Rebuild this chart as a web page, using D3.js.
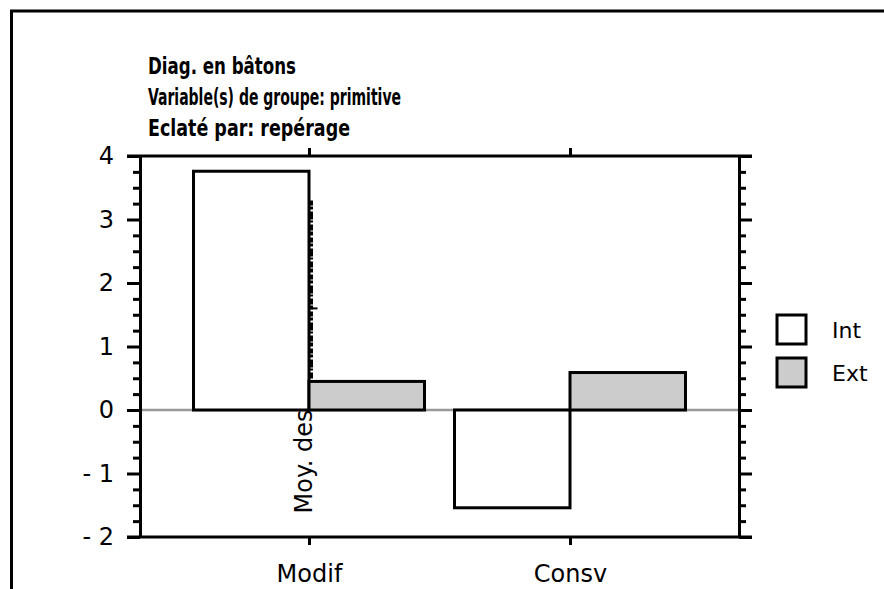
<!DOCTYPE html>
<html>
<head>
<meta charset="utf-8">
<script src="https://cdn.jsdelivr.net/npm/d3@7"></script>
<style>
  html, body { margin: 0; padding: 0; background: #fff; }
  svg { display: block; }
</style>
</head>
<body>
<svg id="chart" width="884" height="589"></svg>
<script>
// Mean scores by group (primitive), split by detection (repérage)
const categories = ["Modif", "Consv"];
const seriesNames = ["Int", "Ext"];
const intValues = [3.76, -1.54];
const extValues = [0.45, 0.59];
const seriesFills = ["#ffffff", "#cccccc"];
const yTicks = [-2, -1, 0, 1, 2, 3, 4];
const yTickLabels = ["- 2", "- 1", "0", "1", "2", "3", "4"];
const titleLines = ["Diag. en bâtons", "Variable(s) de groupe: primitive", "Eclaté par: repérage"];
const titleWidths = [148, 253, 202];
const yAxisLabel = "Moy. des";

const svg = d3.select("#chart");
const W = 884, H = 589;
const plotLeft = 140, plotRight = 739, plotTop = 156, plotBottom = 537;
const labelFont = "'DejaVu Sans', Verdana, sans-serif";
const lineW = 3;

// outer frame (top and left edges)
svg.append("path")
  .attr("d", `M11.5,${H} L11.5,11 L${W},11`)
  .attr("fill", "none").attr("stroke", "#000").attr("stroke-width", 3);

// title block
const title = svg.append("g").attr("font-family", "'Liberation Sans Narrow', 'DejaVu Sans Condensed', sans-serif")
  .attr("font-weight", "bold").attr("font-size", 23).attr("fill", "#000");
titleLines.forEach((t, i) => {
  title.append("text").attr("x", 148).attr("y", 74 + i * 31)
    .attr("textLength", titleWidths[i]).attr("lengthAdjust", "spacingAndGlyphs")
    .text(t);
});

// scales
const y = d3.scaleLinear().domain([-2, 4]).range([plotBottom, plotTop]);
const x0 = d3.scaleBand().domain(categories).range([plotLeft, plotRight]).paddingInner(0.115).paddingOuter(0.205);
const x1 = d3.scaleBand().domain(seriesNames).range([0, x0.bandwidth()]);

const rows = categories.map((c, i) => ({ cat: c, values: [intValues[i], extValues[i]] }));

// zero line
svg.append("line")
  .attr("x1", plotLeft).attr("x2", plotRight).attr("y1", y(0)).attr("y2", y(0))
  .attr("stroke", "#999").attr("stroke-width", 2.5);

// bars
const groups = svg.append("g").selectAll("g").data(rows).join("g")
  .attr("transform", d => `translate(${x0(d.cat)},0)`);
groups.selectAll("rect")
  .data(d => d.values.map((v, j) => ({ key: seriesNames[j], v, fill: seriesFills[j] })))
  .join("rect")
  .attr("x", d => x1(d.key))
  .attr("width", x1.bandwidth())
  .attr("y", d => y(Math.max(0, d.v)))
  .attr("height", d => Math.abs(y(d.v) - y(0)))
  .attr("fill", d => d.fill)
  .attr("stroke", "#000").attr("stroke-width", lineW);

// axes: left and right with minor ticks, top and bottom with category ticks
const minor = d3.range(-2, 4.001, 0.25).filter(v => Math.abs(v - Math.round(v)) > 1e-6);
function styleAxis(g) {
  g.selectAll("path, line").attr("stroke", "#000").attr("stroke-width", lineW);
}
const leftAx = svg.append("g").attr("transform", `translate(${plotLeft},0)`);
leftAx.call(d3.axisLeft(y).tickValues(minor).tickSize(7).tickFormat(""));
leftAx.call(g => g.select(".domain").remove());
const leftMajor = svg.append("g").attr("transform", `translate(${plotLeft},0)`)
  .call(d3.axisLeft(y).tickValues(yTicks).tickSize(13).tickSizeOuter(0).tickPadding(13)
    .tickFormat((d, i) => yTickLabels[i]));
leftMajor.selectAll("text").attr("font-family", labelFont).attr("font-size", 24).attr("fill", "#000");
styleAxis(leftAx); styleAxis(leftMajor);

const rightAx = svg.append("g").attr("transform", `translate(${plotRight},0)`);
rightAx.call(d3.axisRight(y).tickValues(minor).tickSize(7).tickFormat(""));
rightAx.call(g => g.select(".domain").remove());
const rightMajor = svg.append("g").attr("transform", `translate(${plotRight},0)`)
  .call(d3.axisRight(y).tickValues(yTicks).tickSize(13).tickSizeOuter(0).tickFormat(""));
styleAxis(rightAx); styleAxis(rightMajor);

const xc = d3.scalePoint().domain(categories).range([x0(categories[0]) + x0.bandwidth() / 2,
  x0(categories[1]) + x0.bandwidth() / 2]);
const topAx = svg.append("g").attr("transform", `translate(0,${plotTop})`)
  .call(d3.axisTop(xc).tickSize(8).tickSizeOuter(0).tickFormat(""));
topAx.select(".domain").attr("d", `M${plotLeft - 13},0H${plotRight + 13}`);
styleAxis(topAx);
const botAx = svg.append("g").attr("transform", `translate(0,${plotBottom})`)
  .call(d3.axisBottom(xc).tickSize(8).tickSizeOuter(0).tickPadding(20));
botAx.select(".domain").attr("d", `M${plotLeft - 13},0H${plotRight + 13}`);
botAx.selectAll("text").attr("font-family", labelFont).attr("font-size", 24).attr("fill", "#000");
styleAxis(botAx);

// y axis title, partly overprinted inside the plot
const yLabX = xc(categories[0]) + 2.5;
svg.append("path")
  .attr("d", `M${yLabX},${y(3.3)}V${y(0.48)}`)
  .attr("stroke", "#000").attr("stroke-width", 3)
  .attr("stroke-dasharray", "5,1,3,2,8,1,2,2,6,1,4,2");
svg.append("path")
  .attr("d", `M${yLabX},${y(1.6)}H${yLabX + 6}`)
  .attr("stroke", "#000").attr("stroke-width", 2);
svg.append("text")
  .attr("transform", `translate(${yLabX + 1},${y(-1.63)}) rotate(-90)`)
  .attr("font-family", labelFont).attr("font-size", 24).attr("fill", "#000")
  .text(yAxisLabel);

// legend
const legend = svg.append("g");
seriesNames.forEach((s, i) => {
  legend.append("rect")
    .attr("x", 777).attr("y", 315 + i * 43).attr("width", 29).attr("height", 29)
    .attr("fill", seriesFills[i]).attr("stroke", "#000").attr("stroke-width", lineW);
  legend.append("text")
    .attr("x", 832).attr("y", 330 + i * 43).attr("dy", "0.35em")
    .attr("font-family", labelFont).attr("font-size", 22).attr("fill", "#000")
    .text(s);
});
</script>
</body>
</html>
